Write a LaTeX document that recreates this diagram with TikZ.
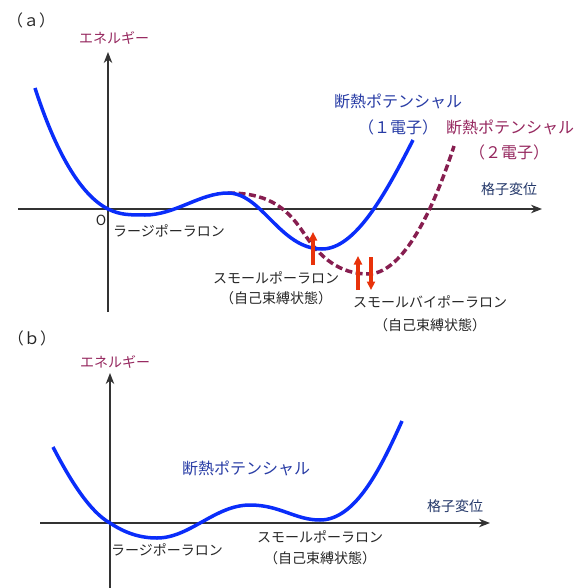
\documentclass[tikz,border=0pt]{standalone}
\usepackage{fontspec}
\setmainfont{Noto Sans CJK JP}
\usetikzlibrary{arrows.meta}
\definecolor{potblue}{RGB}{10,45,250}
\definecolor{potred}{RGB}{135,30,80}
\definecolor{txtblue}{RGB}{40,60,165}
\definecolor{txtnavy}{RGB}{35,55,105}
\definecolor{txtred}{RGB}{150,40,95}
\definecolor{spinred}{RGB}{232,50,10}
\begin{document}
\begin{tikzpicture}[x=1pt,y=-1pt,
  axis/.style={draw=black!80,line width=1.2pt,-{Stealth[length=11pt,width=8.5pt,inset=3.5pt]}},
  pot/.style={potblue,line width=3.5pt},
  pottwo/.style={potred,line width=3.5pt,dash pattern=on 7pt off 3.5pt},
  spin/.style={spinred,line width=3.2pt,-{Triangle[length=8.5pt,width=8pt]}},
  lbl/.style={inner sep=0pt,text=black!85,font=\fontsize{14}{16}\selectfont},
  big/.style={inner sep=0pt,font=\fontsize{16}{18}\selectfont}]
  \useasboundingbox (0,0) rectangle (579,588);
  % (a)
  \node[big,text=black!85] (taga) at (31,20) {（ａ）};
  \coordinate (oa) at (108,209);
  \coordinate (ya) at (108,52);
  \coordinate (yfa) at (108,312);
  \coordinate (xfa) at (18,209);
  \coordinate (xa) at (542,209);
  \draw[axis] (yfa) -- (ya);
  \draw[axis] (xfa) -- (xa);
  \node[lbl,text=txtred] (ena) at (114,38) {エネルギー};
  \node[lbl,text=txtnavy] (lata) at (509,189) {格子変位};
  \node[lbl] (orig) at (101,220) {O};
  \draw[pottwo] (228,193) .. controls (265,193) and (285,205) .. (303,232)
    .. controls (320,258) and (340,274) .. (368,274)
    .. controls (400,274) and (430,220) .. (454,146);
  \draw[pot] (35,88) .. controls (55,150) and (80,195) .. (oa)
    .. controls (120,215) and (130,215) .. (145,215)
    .. controls (175,215) and (200,193) .. (228,193)
    .. controls (262,193) and (280,249) .. (322,249)
    .. controls (355,249) and (385,195) .. (413,140);
  \coordinate (s1b) at (313,265);
  \coordinate (s1t) at (313,232);
  \coordinate (s2b) at (358,290);
  \coordinate (s2t) at (358,256);
  \coordinate (s3t) at (371,257);
  \coordinate (s3b) at (371,290);
  \draw[spin] (s1b) -- (s1t);
  \draw[spin] (s2b) -- (s2t);
  \draw[spin] (s3t) -- (s3b);
  \node[lbl] (largea) at (169,231) {ラージポーラロン};
  \node[lbl] (smalla) at (276,278) {スモールポーラロン};
  \node[lbl] (selfa) at (276,298) {（自己束縛状態）};
  \node[lbl] (bipol) at (430,302) {スモールバイポーラロン};
  \node[lbl] (selfbi) at (430,325) {（自己束縛状態）};
  \node[big,text=txtblue] (adone) at (398,101) {断熱ポテンシャル};
  \node[big,text=txtblue] (one) at (398,127) {（１電子）};
  \node[big,text=txtred] (adtwo) at (510,127) {断熱ポテンシャル};
  \node[big,text=txtred] (two) at (509,152) {（２電子）};
  % (b)
  \node[big,text=black!85] (tagb) at (32,338) {（ｂ）};
  \coordinate (ob) at (110,523);
  \coordinate (yb) at (110,373);
  \coordinate (yfb) at (110,588);
  \coordinate (xfb) at (40,523);
  \coordinate (xb) at (490,523);
  \draw[axis] (yfb) -- (yb);
  \draw[axis] (xfb) -- (xb);
  \node[lbl,text=txtred] (enb) at (115,362) {エネルギー};
  \node[lbl,text=txtnavy] (latb) at (455,506) {格子変位};
  \draw[pot] (53,447) .. controls (70,480) and (90,512) .. (ob)
    .. controls (125,533) and (140,538) .. (157,538)
    .. controls (190,538) and (215,505) .. (250,505)
    .. controls (280,505) and (295,520) .. (320,520)
    .. controls (355,520) and (380,470) .. (402,421);
  \node[big,text=txtblue] (adb) at (246,468) {断熱ポテンシャル};
  \node[lbl] (largeb) at (167,550) {ラージポーラロン};
  \node[lbl] (smallb) at (320,537) {スモールポーラロン};
  \node[lbl] (selfb) at (320,558) {（自己束縛状態）};
\end{tikzpicture}
\end{document}
